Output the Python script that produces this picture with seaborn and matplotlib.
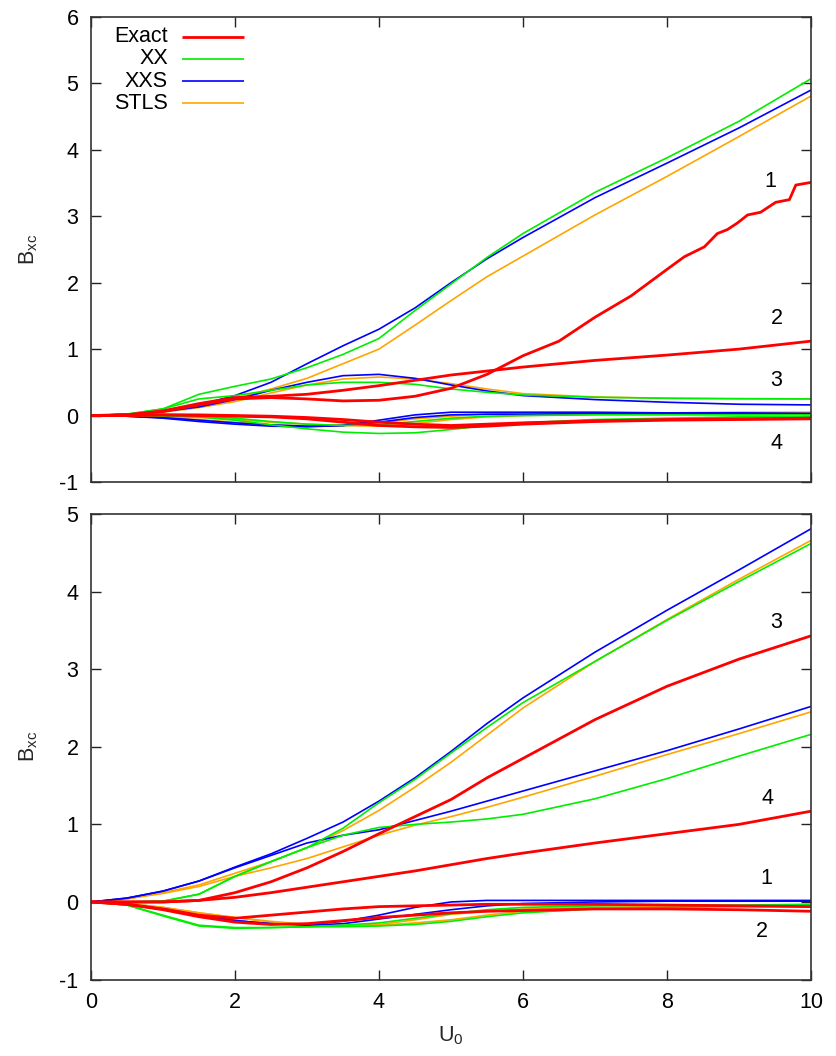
import matplotlib
matplotlib.use("Agg")
import matplotlib.pyplot as plt
import seaborn as sns

# ---------------- data ----------------
U0 = [0, 0.5, 1, 1.5, 2, 2.5, 3, 3.5, 4, 4.5, 5, 5.5, 6, 7, 8, 9, 10]

# top panel
top_exact_1_x = [0, 0.5, 1, 1.5, 2, 2.5, 3, 3.5, 4, 4.5, 5, 5.5, 6, 6.5, 7, 7.5, 8,
                 8.24, 8.52, 8.70, 8.84, 8.98, 9.12, 9.30, 9.51, 9.70, 9.79, 10]
top_exact_1 = [0, 0.01, 0.06, 0.16, 0.25, 0.27, 0.25, 0.22, 0.23, 0.29, 0.41, 0.62, 0.9, 1.12,
               1.48, 1.8, 2.2, 2.39, 2.54, 2.74, 2.80, 2.90, 3.02, 3.06, 3.21, 3.25, 3.47, 3.51]
top_exact_2 = [0, 0.01, 0.07, 0.18, 0.27, 0.29, 0.32, 0.38, 0.45, 0.53, 0.61, 0.67, 0.73, 0.83, 0.91, 1.0, 1.12]
top_exact_3 = [0, 0, 0.01, 0.0, -0.01, -0.02, -0.05, -0.1, -0.15, -0.17, -0.18, -0.16, -0.13, -0.09, -0.07, -0.06, -0.05]
top_exact_4 = [0, 0, 0.01, 0.01, 0.0, -0.01, -0.03, -0.06, -0.1, -0.13, -0.15, -0.13, -0.11, -0.08, -0.06, -0.05, -0.04]

top_xx_a = [0, 0.02, 0.1, 0.32, 0.44, 0.55, 0.72, 0.92, 1.16, 1.58, 1.98, 2.38, 2.74, 3.36, 3.88, 4.43, 5.07]
top_xx_b = [0, 0.02, 0.1, 0.25, 0.3, 0.38, 0.46, 0.5, 0.5, 0.47, 0.4, 0.35, 0.31, 0.275, 0.26, 0.255, 0.25]
top_xx_c = [0, 0, -0.01, -0.02, -0.07, -0.14, -0.2, -0.25, -0.27, -0.26, -0.21, -0.15, -0.11, -0.06, -0.04, -0.02, -0.02]
top_xx_d = [0, 0, 0, -0.01, -0.04, -0.09, -0.13, -0.15, -0.14, -0.09, -0.04, -0.01, 0.0, 0.01, 0.01, 0.01, 0.01]

top_xxs_a = [0, 0.02, 0.07, 0.16, 0.3, 0.5, 0.78, 1.05, 1.3, 1.62, 2.0, 2.36, 2.68, 3.28, 3.8, 4.33, 4.9]
top_xxs_b = [0, 0.02, 0.06, 0.13, 0.24, 0.38, 0.5, 0.6, 0.62, 0.56, 0.46, 0.37, 0.3, 0.24, 0.2, 0.17, 0.16]
top_xxs_c = [0, -0.01, -0.04, -0.09, -0.13, -0.16, -0.17, -0.15, -0.07, 0.01, 0.05, 0.05, 0.05, 0.05, 0.04, 0.04, 0.03]
top_xxs_d = [0, -0.01, -0.03, -0.07, -0.11, -0.14, -0.16, -0.15, -0.1, -0.03, 0.01, 0.02, 0.02, 0.03, 0.03, 0.03, 0.03]

top_stls_a = [0, 0.01, 0.06, 0.14, 0.26, 0.4, 0.56, 0.78, 1.0, 1.36, 1.73, 2.09, 2.4, 3.02, 3.6, 4.2, 4.81]
top_stls_b = [0, 0.01, 0.05, 0.12, 0.21, 0.34, 0.46, 0.55, 0.58, 0.55, 0.48, 0.4, 0.33, 0.28, 0.26, 0.25, 0.25]
top_stls_c = [0, -0.01, -0.03, -0.06, -0.1, -0.14, -0.16, -0.15, -0.11, -0.05, -0.01, 0.02, 0.03, 0.04, 0.04, 0.05, 0.05]
top_stls_d = [0, 0, -0.01, -0.03, -0.06, -0.1, -0.13, -0.15, -0.16, -0.12, -0.06, -0.02, 0.0, 0.02, 0.03, 0.03, 0.03]

# bottom panel
bot_exact_3 = [0, 0, 0.0, 0.02, 0.12, 0.26, 0.44, 0.65, 0.88, 1.1, 1.32, 1.6, 1.85, 2.35, 2.78, 3.13, 3.43]
bot_exact_4 = [0, 0, 0.0, 0.02, 0.06, 0.12, 0.19, 0.26, 0.33, 0.4, 0.48, 0.56, 0.63, 0.76, 0.88, 1.0, 1.17]
bot_exact_1 = [0, -0.03, -0.09, -0.17, -0.21, -0.17, -0.13, -0.09, -0.06, -0.05, -0.04, -0.03, -0.03, -0.03, -0.04, -0.05, -0.06]
bot_exact_2 = [0, -0.03, -0.1, -0.19, -0.26, -0.29, -0.28, -0.24, -0.2, -0.17, -0.14, -0.12, -0.11, -0.09, -0.09, -0.1, -0.12]

bot_xx_a = [0, 0, 0.01, 0.1, 0.33, 0.52, 0.7, 0.95, 1.28, 1.58, 1.92, 2.25, 2.57, 3.1, 3.63, 4.13, 4.62]
bot_xx_b = [0, 0, 0.01, 0.1, 0.33, 0.52, 0.7, 0.86, 0.96, 1.0, 1.03, 1.07, 1.13, 1.33, 1.59, 1.88, 2.16]
bot_xx_c = [0, -0.04, -0.18, -0.31, -0.34, -0.33, -0.32, -0.32, -0.31, -0.29, -0.25, -0.19, -0.14, -0.09, -0.07, -0.06, -0.06]
bot_xx_d = [0, -0.04, -0.17, -0.30, -0.33, -0.33, -0.32, -0.3, -0.27, -0.21, -0.15, -0.1, -0.07, -0.05, -0.04, -0.04, -0.03]

bot_xxs_a = [0, 0.05, 0.14, 0.27, 0.45, 0.62, 0.82, 1.03, 1.3, 1.6, 1.94, 2.3, 2.63, 3.22, 3.76, 4.28, 4.81]
bot_xxs_b = [0, 0.05, 0.14, 0.27, 0.44, 0.6, 0.76, 0.86, 0.93, 1.05, 1.17, 1.3, 1.43, 1.69, 1.95, 2.23, 2.52]
bot_xxs_c = [0, -0.03, -0.09, -0.17, -0.24, -0.28, -0.29, -0.25, -0.17, -0.07, 0.0, 0.02, 0.02, 0.02, 0.02, 0.02, 0.02]
bot_xxs_d = [0, -0.03, -0.09, -0.17, -0.24, -0.28, -0.3, -0.28, -0.22, -0.16, -0.1, -0.05, -0.02, 0.0, 0.01, 0.01, 0.01]

bot_stls_a = [0, 0.04, 0.12, 0.22, 0.37, 0.52, 0.7, 0.92, 1.18, 1.48, 1.8, 2.15, 2.5, 3.1, 3.64, 4.16, 4.66]
bot_stls_b = [0, 0.04, 0.11, 0.2, 0.33, 0.44, 0.56, 0.71, 0.86, 0.99, 1.1, 1.22, 1.35, 1.62, 1.9, 2.17, 2.45]
bot_stls_c = [0, -0.02, -0.07, -0.14, -0.2, -0.26, -0.3, -0.31, -0.29, -0.23, -0.16, -0.12, -0.09, -0.07, -0.06, -0.05, -0.05]
bot_stls_d = [0, -0.02, -0.07, -0.14, -0.2, -0.25, -0.29, -0.31, -0.3, -0.27, -0.23, -0.17, -0.12, -0.08, -0.06, -0.05, -0.04]

methods = ["Exact", "XX", "XXS", "STLS"]
colors = {"Exact": "#ff0000", "XX": "#00ee00", "XXS": "#0000ff", "STLS": "#ffa500"}
widths = {"Exact": 2.0, "XX": 1.2, "XXS": 1.2, "STLS": 1.2}

top_labels = ["1", "2", "3", "4"]
top_label_pos = [(9.43, 3.52), (9.52, 1.46), (9.52, 0.52), (9.52, -0.42)]
bot_labels = ["3", "4", "1", "2"]
bot_label_pos = [(9.52, 3.6), (9.4, 1.33), (9.38, 0.30), (9.32, -0.38)]

# ---------------- style ----------------
sns.set_theme(style="ticks")
plt.rcParams["font.family"] = ["Liberation Sans", "DejaVu Sans"]
plt.rcParams["mathtext.fontset"] = "custom"
plt.rcParams["mathtext.rm"] = "Liberation Sans"
plt.rcParams["mathtext.it"] = "Liberation Sans"
plt.rcParams["axes.unicode_minus"] = False
FS = 15.5

fig = plt.figure(figsize=(8.37, 10.56), dpi=100)
ax1 = fig.add_axes([0.1087, 0.5436, 0.8602, 0.4403])
ax2 = fig.add_axes([0.1087, 0.0724, 0.8602, 0.4408])

top_series = {
    "Exact": [(top_exact_1_x, top_exact_1), (U0, top_exact_2), (U0, top_exact_3), (U0, top_exact_4)],
    "XX": [(U0, top_xx_a), (U0, top_xx_b), (U0, top_xx_c), (U0, top_xx_d)],
    "XXS": [(U0, top_xxs_a), (U0, top_xxs_b), (U0, top_xxs_c), (U0, top_xxs_d)],
    "STLS": [(U0, top_stls_a), (U0, top_stls_b), (U0, top_stls_c), (U0, top_stls_d)],
}
bot_series = {
    "Exact": [(U0, bot_exact_3), (U0, bot_exact_4), (U0, bot_exact_1), (U0, bot_exact_2)],
    "XX": [(U0, bot_xx_a), (U0, bot_xx_b), (U0, bot_xx_c), (U0, bot_xx_d)],
    "XXS": [(U0, bot_xxs_a), (U0, bot_xxs_b), (U0, bot_xxs_c), (U0, bot_xxs_d)],
    "STLS": [(U0, bot_stls_a), (U0, bot_stls_b), (U0, bot_stls_c), (U0, bot_stls_d)],
}

draw_order = ["STLS", "XXS", "XX", "Exact"]
for ax, series in ((ax1, top_series), (ax2, bot_series)):
    for m in draw_order:
        for xs, ys in series[m]:
            sns.lineplot(x=xs, y=ys, ax=ax, color=colors[m], linewidth=widths[m],
                         estimator=None, sort=False)

for ax, labels, pos in ((ax1, top_labels, top_label_pos), (ax2, bot_labels, bot_label_pos)):
    for lab, (px, py) in zip(labels, pos):
        ax.text(px, py, lab, fontsize=FS, ha="center", va="center", color="black")

ax1.set_ylim(-1, 6)
ax2.set_ylim(-1, 5)
for ax in (ax1, ax2):
    ax.set_xlim(0, 10)
    ax.set_xticks([0, 2, 4, 6, 8, 10])
    ax.tick_params(direction="in", length=7, width=1.0, top=True, right=True,
                   labelsize=FS, colors="#222222", labelcolor="black")
    ax.tick_params(axis="y", pad=9)
    ax.tick_params(axis="x", pad=9)
    for sp in ax.spines.values():
        sp.set_visible(True)
        sp.set_linewidth(1.2)
        sp.set_color("#333333")
    ax.set_ylabel(r"$\mathregular{B_{xc}}$", fontsize=FS, labelpad=14)

ax1.set_yticks(range(-1, 7))
ax2.set_yticks(range(-1, 6))
ax1.tick_params(axis="x", labelbottom=False)
ax1.set_xlabel("")
ax2.set_xlabel(r"$\mathregular{U_0}$", fontsize=FS, labelpad=8)

# gnuplot-style key: right-aligned names, sample line to their right
key_rows = [0.957, 0.910, 0.862, 0.815]
for m, yr in zip(methods, key_rows):
    ax1.text(0.107, yr, m, transform=ax1.transAxes, ha="right", va="center",
             fontsize=FS, color="black")
    ax1.plot([0.126, 0.2125], [yr, yr], transform=ax1.transAxes,
             color=colors[m], linewidth=widths[m], solid_capstyle="butt")

fig.savefig("out.png", dpi=100)
